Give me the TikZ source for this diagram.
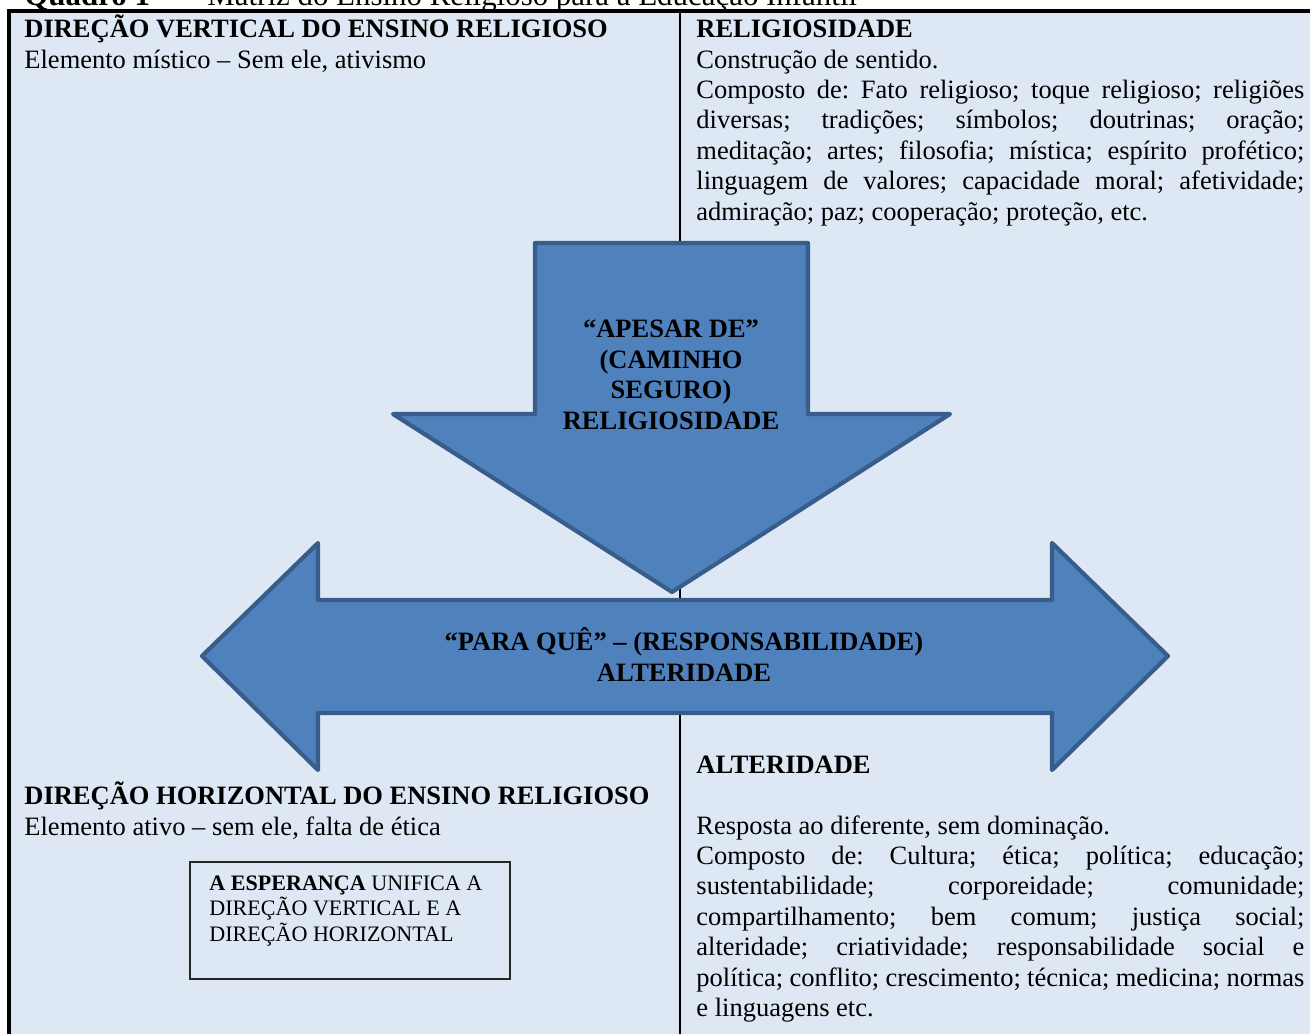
\documentclass[tikz,border=0pt]{standalone}
\usepackage{fontspec}
\setmainfont{Liberation Serif}
\usetikzlibrary{positioning}

\definecolor{cellbg}{HTML}{DDE8F4}
\definecolor{arrowfill}{HTML}{4F81BD}
\definecolor{arrowline}{HTML}{385D8A}

\newcommand\txtfont{\fontsize{12}{13.8}\selectfont\frenchspacing}
\newcommand\boxfont{\fontsize{10}{11.5}\selectfont}

\begin{document}
\begin{tikzpicture}[x=0.453pt, y=-0.453pt]

% --- Estilos ---
\tikzset{
    cellhead/.style={anchor=base west, inner sep=0pt, font=\txtfont\bfseries},
    celltext/.style={anchor=base west, inner sep=0pt, font=\txtfont},
    cellpar/.style={anchor=base west, inner sep=0pt, font=\txtfont, text width=275.4pt, align=justify},
    bigarrow/.style={fill=arrowfill, draw=arrowline, line width=1.9pt, line join=round},
    arrowlabel/.style={anchor=base, inner sep=0pt, font=\txtfont\bfseries, align=center},
    hopebox/.style={draw=black!85, line width=0.7pt, anchor=north west, inner sep=0pt, minimum width=145pt, minimum height=53pt},
}

    \useasboundingbox (0,0) rectangle (1310,1034);
    \clip (0,0) rectangle (1310,1034);

    % Titulo (cortado no topo)
    \node[anchor=base west, inner sep=0pt, font=\fontsize{14}{16}\selectfont] (qnum) at (24,5) {\textbf{Quadro 1} --};
    \node[anchor=base west, inner sep=0pt, font=\fontsize{14}{16}\selectfont] (qtitle) at (207,5) {Matriz do Ensino Religioso para a Educação Infantil};

    % Fundo e linhas da tabela
    \fill[cellbg] (9,11) rectangle (1310,1034);
    \draw[line width=1.4pt] (9,1034) -- (9,11) -- (1310,11);
    \draw[line width=0.7pt] (680,11) -- (680,1034);

    % Coluna esquerda, em cima
    \node[cellhead] (vhead) at (24,37) {DIREÇÃO VERTICAL DO ENSINO RELIGIOSO};
    \node[celltext] (vsub) at (24,68) {Elemento místico -- Sem ele, ativismo};

    % Coluna direita, em cima
    \node[cellhead] (rhead) at (696,37) {RELIGIOSIDADE};
    \node[cellpar] (rtext) at (696,68) {\tolerance=10000 Construção de sentido.\\
        Composto de: Fato religioso; toque religioso; religiões\linebreak
        diversas; tradições; símbolos; doutrinas; oração;\linebreak
        meditação; artes; filosofia; mística; espírito profético;\linebreak
        linguagem de valores; capacidade moral; afetividade;\linebreak
        admiração; paz; cooperação; proteção, etc.};

    % Seta horizontal
    \draw[bigarrow] (202,656) -- (318,543) -- (318,600) -- (1052,600) -- (1052,543)
        -- (1168,656) -- (1052,770) -- (1052,713) -- (318,713) -- (318,770) -- cycle;
    % (ancora base = ultima linha)
    \node[arrowlabel] (hlabel) at (684,681) {“PARA QUÊ” -- (RESPONSABILIDADE)\\ALTERIDADE};

    % Seta para baixo
    \draw[bigarrow] (535,243) -- (808,243) -- (808,414) -- (950,414) -- (672,592)
        -- (393,414) -- (535,414) -- cycle;
    \node[arrowlabel] (vlabel) at (671,429) {“APESAR DE”\\(CAMINHO\\SEGURO)\\RELIGIOSIDADE};

    % Coluna esquerda, em baixo
    \node[cellhead] (hhead) at (24,804) {DIREÇÃO HORIZONTAL DO ENSINO RELIGIOSO};
    \node[celltext] (hsub) at (24,835) {Elemento ativo -- sem ele, falta de ética};

    \node[hopebox] (hope) at (189,861) {};
    \node[anchor=base west, inner sep=0pt, font=\boxfont, align=left] (hopetext) at (209,941)
        {\textbf{A ESPERANÇA} UNIFICA A\\DIREÇÃO VERTICAL E A\\DIREÇÃO HORIZONTAL};

    % Coluna direita, em baixo
    \node[cellhead] (ahead) at (696,773) {ALTERIDADE};
    \node[cellpar] (atext) at (696,834) {\tolerance=10000 Resposta ao diferente, sem dominação.\\
        Composto de: Cultura; ética; política; educação;\linebreak
        sustentabilidade; corporeidade; comunidade;\linebreak
        compartilhamento; bem comum; justiça social;\linebreak
        alteridade; criatividade; responsabilidade social e\linebreak
        política; conflito; crescimento; técnica; medicina; normas\linebreak
        e linguagens etc.};

\end{tikzpicture}
\end{document}
